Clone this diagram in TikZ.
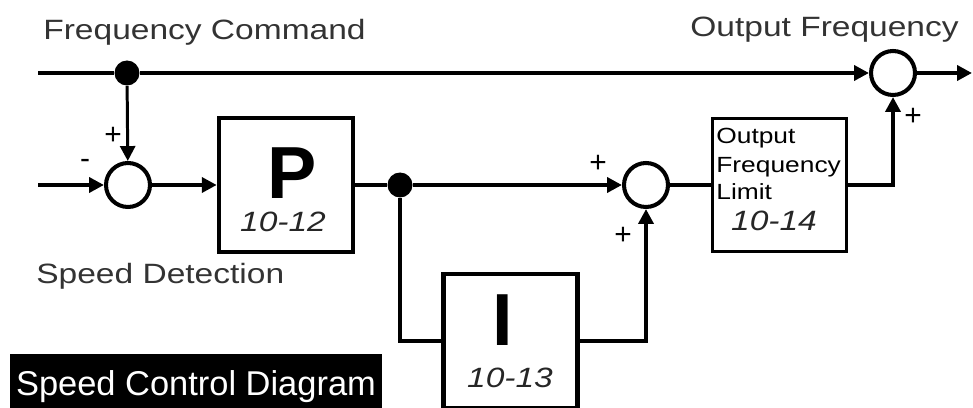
\documentclass[tikz,border=0pt]{standalone}
\usepackage{fontspec}
\setmainfont{Liberation Sans}
\newfontfamily\lblfont[FakeStretch=1.2]{Liberation Sans}
\usetikzlibrary{arrows.meta}

\begin{document}
\begin{tikzpicture}[x=0.02cm, y=-0.02cm, >={Triangle[length=8.5pt,width=8.5pt]},
  sig/.style={line width=2.8pt},
  feed/.style={line width=1.7pt},
  loopline/.style={line width=2.3pt},
  sumjunc/.style={circle, draw, line width=2.3pt, minimum size=0.88cm, inner sep=0pt},
  joint/.style={circle, fill, minimum size=0.5cm, inner sep=0pt},
  gainbox/.style={draw, line width=2.6pt, minimum width=2.68cm, minimum height=2.68cm, inner sep=0pt},
  lbl/.style={font=\lblfont\fontsize{15.9}{19}\selectfont, text=black!80, inner sep=0pt, anchor=base west},
  boxlbl/.style={font=\lblfont\fontsize{12.5}{15}\selectfont, inner sep=0pt, anchor=base west},
  gainname/.style={font=\bfseries\fontsize{42}{44}\selectfont, inner sep=0pt},
  param/.style={font=\lblfont\itshape\fontsize{15.9}{19}\selectfont, text=black!85, inner sep=0pt},
  sgn/.style={font=\fontsize{17}{18}\selectfont, inner sep=0pt}]
  \useasboundingbox (0,0) rectangle (973,408);
  \clip (0,0) rectangle (973,408);

  % blocks and junctions
  \coordinate (fcin) at (38,73);
  \coordinate (fout) at (972,73);
  \coordinate (sdin) at (38,185);
  \node[joint] (fcdot) at (127,73) {};
  \node[sumjunc] (sumout) at (893,73) {};
  \node[sumjunc] (sumerr) at (128,185) {};
  \node[gainbox] (pbox) at (286,185) {};
  \node[joint] (split) at (400,185) {};
  \node[sumjunc] (sumpi) at (646,185) {};
  \node[gainbox, line width=1.7pt] (limbox) at (779.5,185) {};
  \node[gainbox] (ibox) at (510.5,341) {};

  % signal lines
  \draw[sig] (fcin) -- (fcdot);
  \draw[sig,->] (fcdot) -- (sumout);
  \draw[sig,->] (sumout) -- (fout);
  \draw[feed,->] (fcdot) -- (sumerr);
  \draw[sig,->] (sdin) -- (sumerr);
  \draw[sig,->] (sumerr) -- (pbox);
  \draw[sig] (pbox) -- (split);
  \draw[sig,->] (split) -- (sumpi);
  \draw[sig] (sumpi) -- (limbox);
  \draw[sig,->] (limbox.east) -| (sumout.south);
  \draw[loopline] (split) |- (ibox.west);
  \draw[loopline,->] (ibox.east) -| (sumpi.south);

  % block texts
  \node[gainname] (pname) at (292,173) {P};
  \node[param] (pnum) at (283,222) {10-12};
  \node[gainname] (iname) at (503,320) {I};
  \node[param] (inum) at (510,378) {10-13};
  \node[boxlbl] (limtxta) at (716,144) {Output};
  \node[boxlbl] (limtxtb) at (716,173) {Frequency};
  \node[boxlbl] (limtxtc) at (716,200) {Limit};
  \node[param] (limnum) at (774,221) {10-14};

  % signs
  \node[sgn] (sgnfc) at (113,136) {+};
  \node[sgn] (sgnsd) at (85,164) {-};
  \node[sgn] (sgnp) at (598,164) {+};
  \node[sgn] (sgni) at (623,236) {+};
  \node[sgn] (sgnlim) at (913,117) {+};

  % Labels
  \node[lbl] (fctxt) at (43,40) {Frequency Command};
  \node[lbl] (oftxt) at (690,37) {Output Frequency};
  \node[lbl] (sdtxt) at (36,284) {Speed Detection};
  \node[fill=black, text=white, inner sep=0pt, text depth=0pt,
    minimum width=7.44cm, minimum height=1.16cm,
    font=\fontsize{19.6}{22}\selectfont] (title) at (196,383) {Speed Control Diagram};
\end{tikzpicture}
\end{document}
